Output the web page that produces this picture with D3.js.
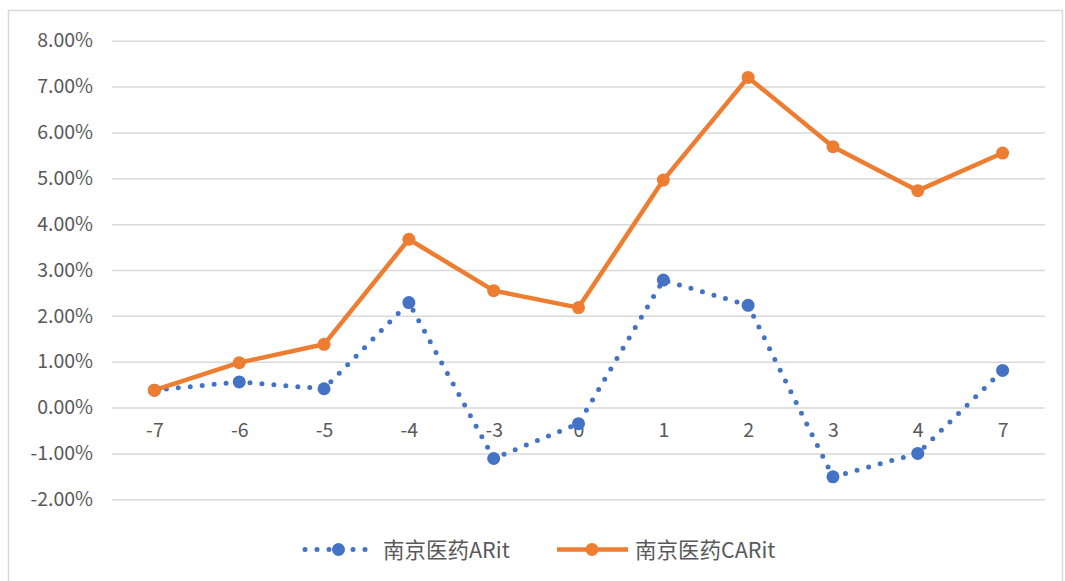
<!DOCTYPE html>
<html>
<head>
<meta charset="utf-8">
<script src="https://cdn.jsdelivr.net/npm/d3@7"></script>
<style>
  html, body { margin: 0; padding: 0; background: #fff; }
  svg { display: block; }
  text { font-family: "Noto Sans CJK SC", "Noto Sans", sans-serif; fill: #595959; }
</style>
</head>
<body>
<svg id="chart" width="1065" height="581"></svg>
<script>
const categories = ["-7", "-6", "-5", "-4", "-3", "0", "1", "2", "3", "4", "7"];
const arValues  = [0.0038, 0.0056, 0.0041, 0.0229, -0.0111, -0.0035, 0.0278, 0.0223, -0.0151, -0.0100, 0.0081];
const carValues = [0.0038, 0.0098, 0.0138, 0.0367, 0.0255, 0.0218, 0.0496, 0.0720, 0.0569, 0.0473, 0.0555];
const yTicks = [-0.02, -0.01, 0, 0.01, 0.02, 0.03, 0.04, 0.05, 0.06, 0.07, 0.08];
const seriesNames = ["南京医药ARit", "南京医药CARit"];

const svg = d3.select("#chart");
const locale = d3.formatLocale({ decimal: ".", thousands: ",", grouping: [3], currency: ["", ""], minus: "-" });
const pct = locale.format(".2%");

// chart border
svg.append("rect").attr("x", 8.5).attr("y", 10.5).attr("width", 1054).attr("height", 580)
  .attr("fill", "none").attr("stroke", "#d9d9d9").attr("stroke-width", 1.5);

const x = d3.scalePoint().domain(categories).range([112, 1045]).padding(0.5);
const y = d3.scaleLinear().domain([-0.02, 0.08]).range([499.3, 40.7]);

// gridlines + y labels
const yAxis = d3.axisLeft(y).tickValues(yTicks).tickFormat(pct).tickSize(-(1045 - 112)).tickPadding(19);
const gy = svg.append("g").attr("transform", "translate(112,0)").call(yAxis);
gy.select(".domain").remove();
gy.selectAll(".tick line").attr("stroke", "#d9d9d9").attr("stroke-width", 1.5);
gy.selectAll(".tick text").attr("font-size", 19.5).attr("fill", "#606060")
  .style("font-family", '"Noto Sans CJK SC", "Noto Sans", sans-serif');

// x labels along zero line
const xAxis = d3.axisBottom(x).tickSize(0).tickPadding(16);
const gx = svg.append("g").attr("transform", `translate(0,${y(0)})`).call(xAxis);
gx.select(".domain").remove();
gx.selectAll(".tick text").attr("font-size", 19.5).attr("fill", "#606060")
  .style("font-family", '"Noto Sans CJK SC", "Noto Sans", sans-serif');

const line = d3.line().x((d, i) => x(categories[i])).y(d => y(d));

// AR series (dotted blue)
svg.append("path").datum(arValues).attr("d", line)
  .attr("fill", "none").attr("stroke", "#4472C4").attr("stroke-width", 5)
  .attr("stroke-linecap", "round").attr("stroke-dasharray", "0,12");
svg.append("g").selectAll("circle").data(arValues).join("circle")
  .attr("cx", (d, i) => x(categories[i])).attr("cy", d => y(d)).attr("r", 6.5)
  .attr("fill", "#4472C4");

// CAR series (solid orange)
svg.append("path").datum(carValues).attr("d", line)
  .attr("fill", "none").attr("stroke", "#ED7D31").attr("stroke-width", 4.5)
  .attr("stroke-linejoin", "round");
svg.append("g").selectAll("circle").data(carValues).join("circle")
  .attr("cx", (d, i) => x(categories[i])).attr("cy", d => y(d)).attr("r", 6.5)
  .attr("fill", "#ED7D31");

// legend
const lg = svg.append("g");
const ly = 549.5;
lg.append("line").attr("x1", 305).attr("x2", 372).attr("y1", ly).attr("y2", ly)
  .attr("stroke", "#4472C4").attr("stroke-width", 5).attr("stroke-linecap", "round").attr("stroke-dasharray", "0,12");
lg.append("circle").attr("cx", 338.5).attr("cy", ly).attr("r", 6.5).attr("fill", "#4472C4");
lg.append("text").attr("x", 383).attr("y", ly + 8.5).attr("font-size", 21.5).attr("fill", "#606060").text(seriesNames[0]);

lg.append("line").attr("x1", 557).attr("x2", 628).attr("y1", ly).attr("y2", ly)
  .attr("stroke", "#ED7D31").attr("stroke-width", 4.5);
lg.append("circle").attr("cx", 592).attr("cy", ly).attr("r", 6.5).attr("fill", "#ED7D31");
lg.append("text").attr("x", 635).attr("y", ly + 8.5).attr("font-size", 21.5).attr("fill", "#606060").text(seriesNames[1]);
</script>
</body>
</html>
